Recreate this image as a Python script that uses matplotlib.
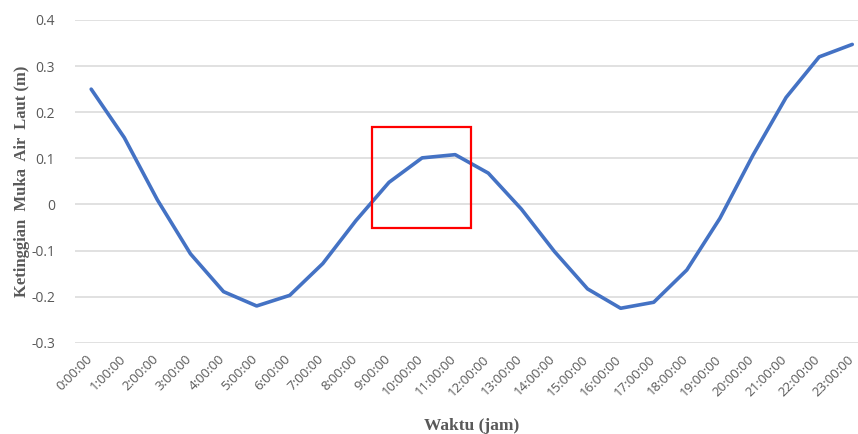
import matplotlib.pyplot as plt
import matplotlib.transforms as mtransforms
from matplotlib.patches import Rectangle

# --- data ---
hours = [f'{h}:00:00' for h in range(24)]
levels = [0.250, 0.145, 0.010, -0.107, -0.189, -0.220, -0.197, -0.128,
          -0.035, 0.048, 0.101, 0.108, 0.068, -0.010, -0.102, -0.183,
          -0.225, -0.212, -0.142, -0.030, 0.107, 0.232, 0.320, 0.347]
yticks = [0.4, 0.3, 0.2, 0.1, 0, -0.1, -0.2, -0.3]
ytick_labels = ['0.4', '0.3', '0.2', '0.1', '0', '-0.1', '-0.2', '-0.3']

# highlight box (category index / metres)
box_x = [8.49, 11.48]
box_y = [-0.05, 0.167]

fig = plt.figure(figsize=(8.58, 4.34), dpi=100)
# plot area runs a little past the right edge of the picture (as in the reference)
ax = fig.add_axes([0.087, 0.21, 0.9256, 0.744])

x = list(range(len(hours)))
ax.plot(x, levels, color='#4472C4', linewidth=2.6, solid_capstyle='round', zorder=3)

ax.add_patch(Rectangle((box_x[0], box_y[0]), box_x[1] - box_x[0], box_y[1] - box_y[0],
                       fill=False, edgecolor='#FF0000', linewidth=1.6, zorder=4))

ax.set_xlim(-0.5, 23.5)
ax.set_ylim(-0.3, 0.4)
ax.set_yticks(yticks)
ax.set_yticklabels(ytick_labels)
ax.set_xticks(x)
ax.set_xticklabels(hours, rotation=45, ha='right', rotation_mode='anchor')

ax.grid(axis='y', color='#D9D9D9', linewidth=1.1)
ax.set_axisbelow(True)
for s in ax.spines.values():
    s.set_visible(False)
ax.tick_params(axis='both', length=0, colors='#595959')
ax.tick_params(axis='y', labelsize=10, pad=14)
ax.tick_params(axis='x', labelsize=9.5, pad=7)

# nudge rotated labels a bit left so the last one stays inside the picture
shift = mtransforms.ScaledTranslation(-4 / 72, 0, fig.dpi_scale_trans)
for lab in ax.get_xticklabels():
    lab.set_fontfamily('Open Sans')
    lab.set_transform(lab.get_transform() + shift)
for lab in ax.get_yticklabels():
    lab.set_fontfamily('Open Sans')

ax.set_ylabel('Ketinggian  Muka  Air  Laut (m)', fontfamily='Liberation Serif',
              fontweight='bold', fontsize=12, color='#595959', labelpad=1)
ax.set_xlabel('Waktu (jam)', fontfamily='Liberation Serif', fontweight='bold',
              fontsize=12.5, color='#595959', labelpad=14)

fig.savefig('out.png', dpi=100)
